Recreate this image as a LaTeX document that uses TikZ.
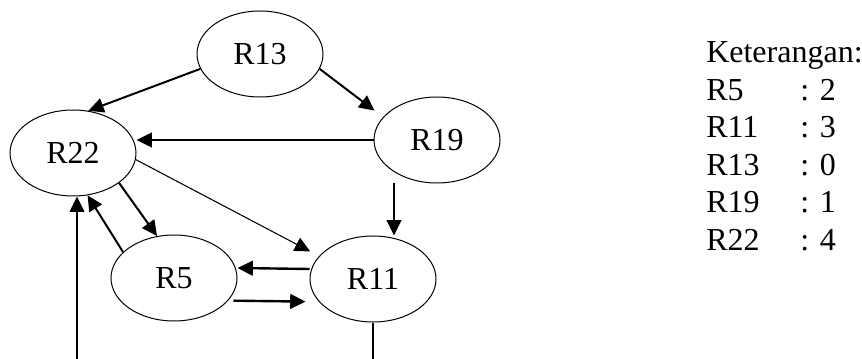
\documentclass[tikz,border=0pt]{standalone}
\usepackage{fontspec}
\setmainfont{Liberation Serif}
\usetikzlibrary{shapes.geometric,arrows.meta}

\begin{document}
\begin{tikzpicture}[x=0.75pt,y=-0.75pt,
    state/.style={draw,fill=white,ellipse,line width=0.75pt,
      minimum width=94.5pt,minimum height=64.5pt,inner sep=0pt,
      font=\fontsize{24}{28}\selectfont},
    arr/.style={line width=1.5pt,-{Triangle[length=11.5pt,width=11pt]}},
    thinarr/.style={line width=0.8pt,-{Triangle[length=11.5pt,width=11pt]}},
    legend/.style={anchor=base west,inner sep=0pt,
      font=\fontsize{24}{28}\selectfont}]
  \useasboundingbox (0,0) rectangle (862,359);
  \clip (0,0) rectangle (862,359);
  % states
  \node[state] (R13) at (260,54) {R13};
  \node[state] (R19) at (437,140) {R19};
  \node[state] (R22) at (73,153) {R22};
  \node[state] (R5) at (174,278) {R5};
  \node[state] (R11) at (373,279) {R11};
  % transitions
  \draw[arr] (R13.194) -- (R22.70);
  \draw[arr,shorten >=8pt] (R13.346) -- (R19.157);
  \draw[arr] (R19.west) -- (R19.west -| R22.east);
  \draw[thinarr,shorten >=7.5pt] (R22.354) -- (R11.157);
  \draw[arr] (R22.327) -- (R5.112);
  \draw[arr] (R5.153) -- (R22.289);
  \coordinate (top11) at ([xshift=15.75pt]R11.north);
  \draw[arr] (R19.south -| top11) -- (top11);
  \draw[arr,line width=1.8pt] ([yshift=7.5pt]R11.west) -- ([yshift=7.5pt]R5.east);
  \draw[arr,line width=1.8pt,shorten >=3pt]
    ([xshift=-3pt,yshift=-17pt]R5.east) -- ([yshift=-17pt]R11.west);
  \draw[arr,line width=1.1pt] (R11.south) -- ++(0,60) -| ([xshift=3pt]R22.south);
  % legend
  \node[legend] (ket) at (706,63) {Keterangan:};
  \foreach \r/\v [count=\i] in {R5/2,R11/3,R13/0,R19/1,R22/4} {
    \node[legend] (name\r) at (706,63+37.5*\i) {\r};
    \node[legend] (val\r) at (800,63+37.5*\i) {: \v};
  }
\end{tikzpicture}
\end{document}
